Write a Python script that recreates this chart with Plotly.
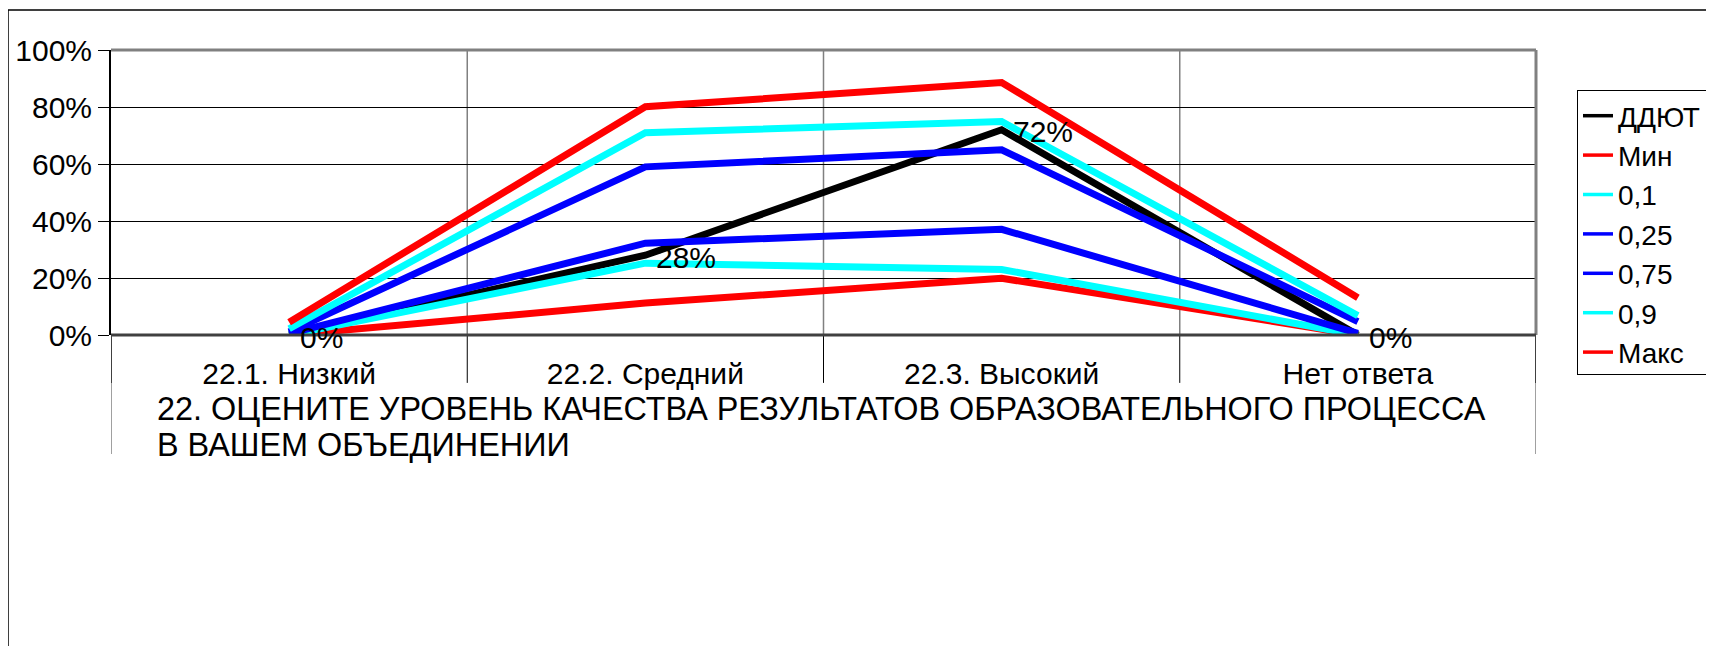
import plotly.graph_objects as go

categories = ["22.1. Низкий", "22.2. Средний", "22.3. Высокий", "Нет ответа"]
series_names = ["ДДЮТ", "Мин", "0,1", "0,25", "0,75", "0,9", "Макс"]
ddyut = [0.0, 0.28, 0.72, 0.0]
v_min = [0.0, 0.112, 0.199, 0.0]
v_p10 = [0.0, 0.252, 0.23, 0.0]
v_p25 = [0.005, 0.322, 0.371, 0.006]
v_p75 = [0.011, 0.59, 0.65, 0.047]
v_p90 = [0.022, 0.71, 0.749, 0.068]
v_max = [0.045, 0.801, 0.886, 0.131]
series_values = [ddyut, v_min, v_p10, v_p25, v_p75, v_p90, v_max]
series_colors = ["#000000", "#FF0000", "#00FFFF", "#0000FF", "#0000FF", "#00FFFF", "#FF0000"]
y_ticks = [0, 0.2, 0.4, 0.6, 0.8, 1.0]
axis_title_lines = ["22. ОЦЕНИТЕ УРОВЕНЬ КАЧЕСТВА РЕЗУЛЬТАТОВ ОБРАЗОВАТЕЛЬНОГО ПРОЦЕССА",
                    "В ВАШЕМ ОБЪЕДИНЕНИИ"]

FONT = "Liberation Sans, Arial, sans-serif"
FS = 30

# page has an 8px body margin; figure is sized/placed accordingly
W, H = 1706, 638
L, T, PW, PH = 103, 42, 1425, 285

fig = go.Figure()
for name, vals, col in zip(series_names, series_values, series_colors):
    fig.add_trace(go.Scatter(
        x=categories, y=vals, name=name, mode="lines", showlegend=False,
        line=dict(color=col, width=7), cliponaxis=False,
    ))
# legend entries (thinner sample lines, as in the original legend)
for name, col in zip(series_names, series_colors):
    fig.add_trace(go.Scatter(
        x=[None], y=[None], name=name, mode="lines",
        line=dict(color=col, width=3.5), showlegend=True,
    ))

shapes = []
for b in [0.5, 1.5, 2.5]:
    shapes.append(dict(type="line", xref="x", yref="paper", x0=b, x1=b, y0=0, y1=1,
                       line=dict(color="#808080", width=1.5), layer="below"))
    shapes.append(dict(type="line", xref="x", yref="paper", x0=b, x1=b, y0=-0.168, y1=0,
                       line=dict(color="#000000", width=1)))
for b in [-0.5, 3.5]:
    shapes.append(dict(type="line", xref="x", yref="paper", x0=b, x1=b, y0=-0.168, y1=0,
                       line=dict(color="#000000", width=1.5)))
    shapes.append(dict(type="line", xref="x", yref="paper", x0=b, x1=b, y0=-0.4175, y1=-0.168,
                       line=dict(color="#808080", width=1.5)))
shapes.append(dict(type="line", xref="paper", yref="paper", x0=0, x1=1, y0=1, y1=1,
                   line=dict(color="#808080", width=3)))
shapes.append(dict(type="line", xref="paper", yref="paper", x0=1, x1=1, y0=0, y1=1,
                   line=dict(color="#808080", width=3)))
shapes.append(dict(type="line", xref="paper", yref="paper", x0=0, x1=1, y0=0, y1=0,
                   line=dict(color="#404040", width=3)))
shapes.append(dict(type="rect", xref="paper", yref="paper",
                   x0=(0 - L) / PW, x1=1.3, y0=-1.3, y1=(T + PH - 2) / PH,
                   line=dict(color="#000000", width=1.5), layer="below"))

annotations = []
# data labels for ДДЮТ, on top of all lines
for cat, val in zip(categories, ddyut):
    annotations.append(dict(
        x=cat, y=val, xref="x", yref="y", text=f"{val:.0%}", showarrow=False,
        xanchor="left", yanchor="middle", xshift=9, yshift=-2,
        font=dict(family=FONT, size=FS, color="black"),
    ))
for line_text, y_fig in zip(axis_title_lines, [401, 436.5]):
    annotations.append(dict(
        text=line_text, xref="paper", yref="paper",
        x=(147 - L) / PW, y=(T + PH - y_fig) / PH, xanchor="left", yanchor="middle",
        align="left", showarrow=False,
        font=dict(family=FONT, size=32.4, color="black"),
    ))

fig.update_layout(
    width=W, height=H,
    margin=dict(l=L, r=W - L - PW, t=T, b=H - T - PH, autoexpand=False),
    paper_bgcolor="white", plot_bgcolor="white",
    font=dict(family=FONT, size=FS, color="black"),
    shapes=shapes,
    showlegend=True,
    legend=dict(
        x=(1569 - L) / PW, y=(T + PH - 82) / PH, xanchor="left", yanchor="top",
        bordercolor="black", borderwidth=1, bgcolor="white",
        font=dict(family=FONT, size=28, color="black"),
        tracegroupgap=0, itemwidth=30,
    ),
    xaxis=dict(
        type="category", range=[-0.5, 3.5], showgrid=False, zeroline=False,
        showline=False, ticks="", ticklabelstandoff=18, automargin=False,
        tickfont=dict(family=FONT, size=FS, color="black"),
    ),
    yaxis=dict(
        range=[0, 1], tickvals=y_ticks, tickformat=".0%", automargin=False,
        showgrid=True, gridcolor="black", gridwidth=1, zeroline=False,
        showline=True, linecolor="black", linewidth=2,
        ticks="outside", ticklen=11, tickcolor="black", tickwidth=1,
        tickfont=dict(family=FONT, size=FS, color="black"),
    ),
    annotations=annotations,
)

fig.write_html("out.html")
